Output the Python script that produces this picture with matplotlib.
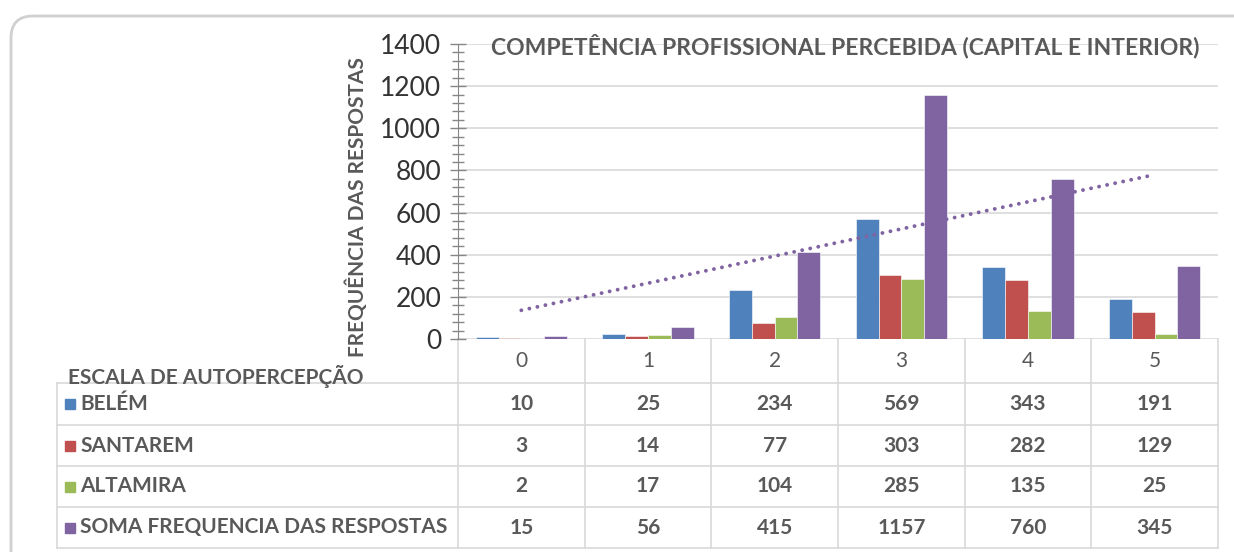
import numpy as np
import matplotlib.pyplot as plt
from matplotlib.patches import FancyBboxPatch, Rectangle

# ---------- data ----------
categories = ["0", "1", "2", "3", "4", "5"]
series_names = ["BELÉM", "SANTAREM", "ALTAMIRA", "SOMA FREQUENCIA DAS RESPOSTAS"]
belem = [10, 25, 234, 569, 343, 191]
santarem = [3, 14, 77, 303, 282, 129]
altamira = [2, 17, 104, 285, 135, 25]
soma = [15, 56, 415, 1157, 760, 345]
y_ticks = [0, 200, 400, 600, 800, 1000, 1200, 1400]

title = "COMPETÊNCIA PROFISSIONAL PERCEBIDA (CAPITAL E INTERIOR)"
y_label = "FREQUÊNCIA DAS RESPOSTAS"
x_label = "ESCALA DE AUTOPERCEPÇÃO"

# ---------- style ----------
colors = ["#4F81BD", "#C0504D", "#9BBB59", "#8064A2"]
text_gray = "#595959"
grid_gray = "#D9D9D9"
axis_gray = "#868686"
plt.rcParams["font.family"] = ["Lato", "DejaVu Sans"]

W, H = 1234, 552
fig = plt.figure(figsize=(W / 100, H / 100), dpi=100)
fig.patch.set_facecolor("white")

# pixel layout of the plot area
px_left, px_right = 458, 1218
px_zero, px_top = 339, 44
ax = fig.add_axes([px_left / W, 1 - px_zero / H,
                   (px_right - px_left) / W, (px_zero - px_top) / H])

# overlay in pixel coordinates for frame and data table
tab = fig.add_axes([0, 0, 1, 1], zorder=-1)
tab.set_xlim(0, W)
tab.set_ylim(H, 0)
tab.axis("off")

# outer rounded frame
tab.add_patch(FancyBboxPatch((11, 16), W + 20, H + 20,
                             boxstyle="round,pad=0,rounding_size=22",
                             fc="white", ec="#D0D0D0", lw=2))

# ---------- bars ----------
x = np.arange(len(categories))
bw = 0.18
all_series = [belem, santarem, altamira, soma]
for k, (vals, c) in enumerate(zip(all_series, colors)):
    ax.bar(x + (k - 1.5) * bw, vals, width=bw, color=c,
           edgecolor="white", linewidth=0.4, zorder=3)

# linear trendline on the sum series
coef = np.polyfit(x, soma, 1)
ax.plot(x, np.polyval(coef, x), color=colors[3], lw=2.8,
        linestyle=(0, (0.01, 2.1)), dash_capstyle="round", zorder=4)

ax.set_xlim(-0.5, len(categories) - 0.5)
ax.set_ylim(0, 1400)
ax.set_yticks(y_ticks)
ax.set_yticks(np.arange(0, 1401, 40), minor=True)
ax.set_xticks([])
ax.yaxis.grid(True, color=grid_gray, lw=1.2, zorder=0)
for s in ["top", "right", "bottom"]:
    ax.spines[s].set_visible(False)
ax.spines["left"].set_color(axis_gray)
ax.tick_params(axis="y", which="major", direction="inout", length=12,
               width=1, color=axis_gray, labelsize=19, labelcolor="#333333",
               pad=6)
ax.tick_params(axis="y", which="minor", direction="inout", length=8,
               width=1, color=axis_gray)
ax.set_facecolor("none")

ax.set_title(title, fontsize=16.5, fontweight="bold", color=text_gray,
             x=0.51, y=0.935, loc="center")
fig.text(357 / W, 1 - 207 / H, y_label, rotation=90, fontsize=15,
         fontweight="bold", color=text_gray, ha="center", va="center")

# ---------- data table ----------
col_w = (px_right - px_left) / len(categories)
row_edges = [383, 425, 466, 507, 548]
tbl_left = 57
lc = grid_gray
fs = 15

# header row separators
for i in range(len(categories) + 1):
    xx = px_left + i * col_w
    tab.plot([xx, xx], [px_zero, row_edges[-1]], color=lc, lw=1.2)
for i, cat in enumerate(categories):
    tab.text(px_left + (i + 0.5) * col_w, 361, cat, fontsize=fs,
             color=text_gray, ha="center", va="center")

# horizontal lines
for yy in row_edges:
    tab.plot([tbl_left, px_right], [yy, yy], color=lc, lw=1.2)
tab.plot([tbl_left, tbl_left], [row_edges[0], row_edges[-1]], color=lc, lw=1.2)

tab.text(68, 376, x_label, fontsize=fs, fontweight="bold", color=text_gray,
         ha="left", va="center")

for r, (name, vals, c) in enumerate(zip(series_names, all_series, colors)):
    yc = (row_edges[r] + row_edges[r + 1]) / 2
    tab.add_patch(Rectangle((65, yc - 5), 10, 10, color=c))
    tab.text(80, yc, name, fontsize=fs, fontweight="bold", color=text_gray,
             ha="left", va="center")
    for i, v in enumerate(vals):
        tab.text(px_left + (i + 0.5) * col_w, yc, str(v), fontsize=fs,
                 fontweight="bold", color=text_gray, ha="center", va="center")

fig.savefig("out.png", dpi=100)
